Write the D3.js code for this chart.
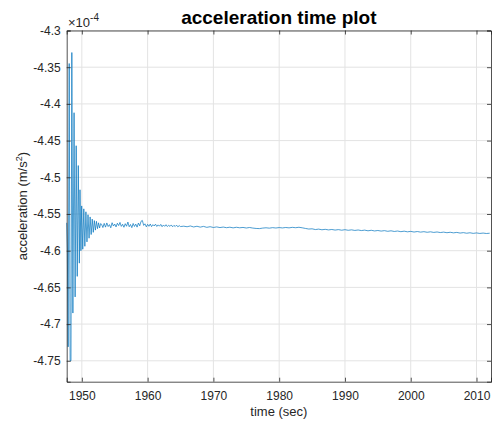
<!DOCTYPE html>
<html>
<head>
<meta charset="utf-8">
<script src="https://cdn.jsdelivr.net/npm/d3@7"></script>
<style>
  html, body { margin: 0; padding: 0; background: #ffffff; }
  svg { display: block; font-family: "Liberation Sans", Arial, Helvetica, sans-serif; }
</style>
</head>
<body>
<svg id="chart" width="492" height="421"></svg>
<script>
// ---- Data (acceleration in units of 1e-4 m/s^2) ----
const title = "acceleration time plot";
const xLabel = "time (sec)";
const yLabel = "acceleration (m/s";
const xTicks = [1950, 1960, 1970, 1980, 1990, 2000, 2010];
const yTicks = [-4.3, -4.35, -4.4, -4.45, -4.5, -4.55, -4.6, -4.65, -4.7, -4.75];
const yTickLabels = ["-4.3", "-4.35", "-4.4", "-4.45", "-4.5", "-4.55", "-4.6", "-4.65", "-4.7", "-4.75"];
const xDomain = [1947.7, 2012.2];
const yDomain = [-4.7785, -4.3];

// initial transient: alternating peaks and troughs
const oscTimes = [1947.70, 1947.80, 1947.92, 1948.08, 1948.22, 1948.35, 1948.48, 1948.64, 1948.82, 1948.98,
  1949.14, 1949.30, 1949.46, 1949.62, 1949.72, 1949.86, 1949.98, 1950.14, 1950.30, 1950.46,
  1950.62, 1950.78, 1950.94, 1951.10, 1951.26, 1951.42, 1951.58, 1951.74, 1951.90, 1952.06,
  1952.22, 1952.38, 1952.54, 1952.70, 1952.86];
const oscValues = [-4.562, -4.600, -4.731, -4.345, -4.750, -4.750, -4.330, -4.685, -4.412, -4.663,
  -4.457, -4.635, -4.484, -4.617, -4.517, -4.600, -4.539, -4.598, -4.543, -4.594,
  -4.547, -4.588, -4.551, -4.583, -4.554, -4.578, -4.557, -4.575, -4.559, -4.572,
  -4.560, -4.570, -4.562, -4.569, -4.563];

// settled part, sampled every 0.2 s from 1953.0
const settleStartA = 1953.0, settleStepA = 0.2;
const settleValuesA = [-4.5640, -4.5685, -4.5628, -4.5679, -4.5622, -4.5671, -4.5645, -4.5688, -4.5619, -4.5664,
  -4.5637, -4.5676, -4.5626, -4.5658, -4.5615, -4.5669, -4.5640, -4.5681, -4.5632, -4.5667,
  -4.5610, -4.5674, -4.5643, -4.5686, -4.5629, -4.5670, -4.5638, -4.5679, -4.5624, -4.5661,
  -4.5600, -4.5588, -4.5655, -4.5634, -4.5675, -4.5641, -4.5668, -4.5636, -4.5672, -4.5645,
  -4.5663, -4.5639, -4.5670, -4.5648, -4.5666, -4.5642, -4.5673, -4.5650, -4.5668, -4.5646,
  -4.5671, -4.5653, -4.5669, -4.5649, -4.5674, -4.5655, -4.5670, -4.5652, -4.5675, -4.5658,
  -4.5671];

// slow drift, sampled every 0.5 s from 1965.5
const settleStartB = 1965.5, settleStepB = 0.5;
const settleValuesB = [-4.5666, -4.5674, -4.5663, -4.5677, -4.5667, -4.5679, -4.5669, -4.5682, -4.5673, -4.5684,
  -4.5676, -4.5685, -4.5678, -4.5687, -4.5680, -4.5689, -4.5681, -4.5688, -4.5683, -4.5691,
  -4.5684, -4.5692, -4.5697, -4.5699, -4.5692, -4.5688, -4.5693, -4.5686, -4.5691, -4.5685,
  -4.5690, -4.5684, -4.5689, -4.5682, -4.5687, -4.5681, -4.5688, -4.5697, -4.5705, -4.5702,
  -4.5712, -4.5706, -4.5715, -4.5709, -4.5717, -4.5711, -4.5719, -4.5713, -4.5721, -4.5714,
  -4.5722, -4.5716, -4.5724, -4.5718, -4.5726, -4.5720, -4.5729, -4.5722, -4.5731, -4.5725,
  -4.5733, -4.5727, -4.5736, -4.5729, -4.5738, -4.5732, -4.5741, -4.5734, -4.5743, -4.5737,
  -4.5746, -4.5739, -4.5747, -4.5741, -4.5749, -4.5743, -4.5751, -4.5745, -4.5753, -4.5747,
  -4.5755, -4.5749, -4.5757, -4.5751, -4.5760, -4.5754, -4.5762, -4.5756, -4.5764, -4.5758,
  -4.5765, -4.5760, -4.5766, -4.5762];

// ---- Build series ----
const series = [];
oscTimes.forEach((t, i) => series.push({ t: t, v: oscValues[i] }));
settleValuesA.forEach((v, i) => series.push({ t: settleStartA + i * settleStepA, v: v }));
settleValuesB.forEach((v, i) => series.push({ t: settleStartB + i * settleStepB, v: v }));

// ---- Layout ----
const svg = d3.select("#chart");
const L = 66.7, R = 491, T = 30.5, B = 381.7;
const x = d3.scaleLinear().domain(xDomain).range([L, R]);
const y = d3.scaleLinear().domain(yDomain).range([B, T]);
const axisColor = "#262626";
const gridColor = "#e3e3e3";

// grid
const grid = svg.append("g");
grid.selectAll("line.gx").data(xTicks).enter().append("line")
  .attr("x1", d => x(d)).attr("x2", d => x(d)).attr("y1", T).attr("y2", B)
  .attr("stroke", gridColor).attr("stroke-width", 1);
grid.selectAll("line.gy").data(yTicks).enter().append("line")
  .attr("x1", L).attr("x2", R).attr("y1", d => y(d)).attr("y2", d => y(d))
  .attr("stroke", gridColor).attr("stroke-width", 1);

// data line
const line = d3.line().x(d => x(d.t)).y(d => y(d.v));
svg.append("path").datum(series)
  .attr("d", line)
  .attr("fill", "none")
  .attr("stroke", "#0072BD")
  .attr("stroke-width", 0.7)
  .attr("stroke-linejoin", "round");

// axes (box with inward ticks)
const tickLen = 4;
const xAxisB = d3.axisBottom(x).tickValues(xTicks).tickSize(-tickLen).tickPadding(10).tickFormat(d3.format("d"));
const xAxisT = d3.axisTop(x).tickValues(xTicks).tickSize(-tickLen).tickFormat("");
const yAxisL = d3.axisLeft(y).tickValues(yTicks).tickSize(-tickLen).tickPadding(6)
  .tickFormat((d, i) => yTickLabels[i]);
const yAxisR = d3.axisRight(y).tickValues(yTicks).tickSize(-tickLen).tickFormat("");

function styleAxis(g) {
  g.select(".domain").attr("stroke", axisColor).attr("stroke-width", 0.8);
  g.selectAll(".tick line").attr("stroke", axisColor).attr("stroke-width", 0.8);
  g.selectAll(".tick text").attr("fill", axisColor).attr("font-size", 12)
    .attr("font-family", "'Liberation Sans', Arial, Helvetica, sans-serif");
}
svg.append("g").attr("transform", `translate(0,${B})`).call(xAxisB).call(styleAxis);
svg.append("g").attr("transform", `translate(0,${T})`).call(xAxisT).call(styleAxis);
svg.append("g").attr("transform", `translate(${L},0)`).call(yAxisL).call(styleAxis);
svg.append("g").attr("transform", `translate(${R},0)`).call(yAxisR).call(styleAxis);

// exponent label
const expo = svg.append("text").attr("x", 68).attr("y", 27)
  .attr("font-size", 13).attr("fill", axisColor);
expo.append("tspan").text("\u00d710");
expo.append("tspan").attr("dy", -6).attr("font-size", 10).text("-4");

// title
svg.append("text").attr("x", (L + R) / 2).attr("y", 24).attr("text-anchor", "middle")
  .attr("font-size", 19).attr("font-weight", "bold").attr("fill", "#000").text(title);

// x label
svg.append("text").attr("x", (L + R) / 2).attr("y", 416).attr("text-anchor", "middle")
  .attr("font-size", 13).attr("fill", axisColor).text(xLabel);

// y label
const yl = svg.append("text")
  .attr("transform", `translate(27,${(T + B) / 2}) rotate(-90)`)
  .attr("text-anchor", "middle").attr("font-size", 13).attr("fill", axisColor);
yl.append("tspan").text(yLabel);
yl.append("tspan").attr("dy", -5).attr("font-size", 9).text("2");
yl.append("tspan").attr("dy", 5).text(")");
</script>
</body>
</html>
